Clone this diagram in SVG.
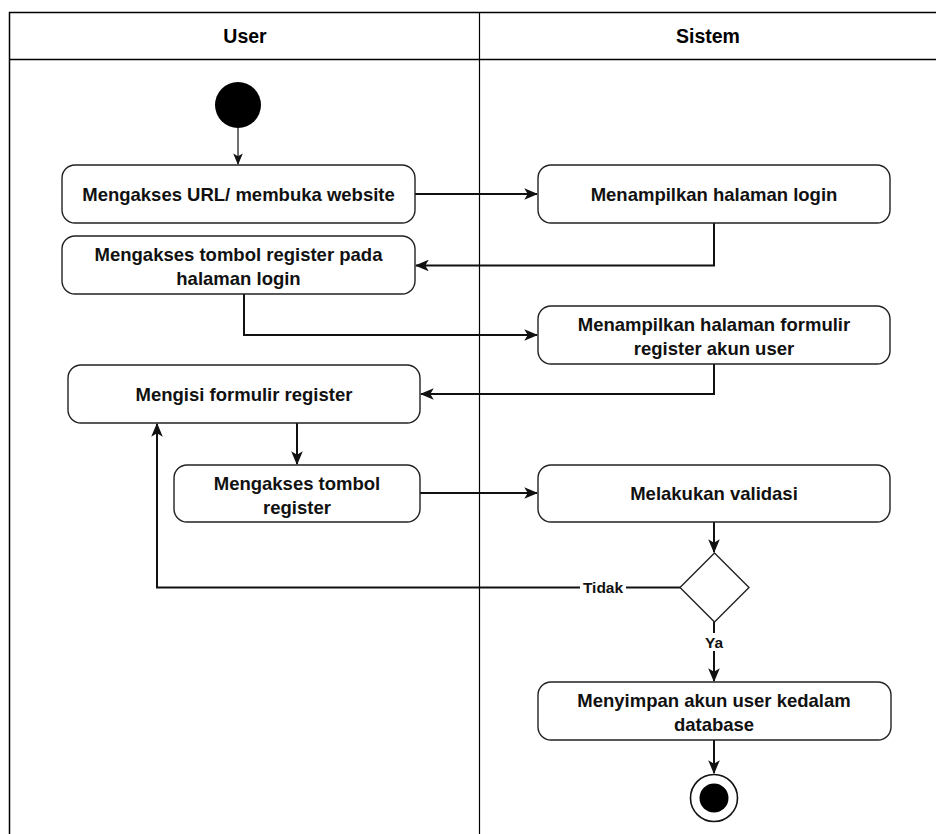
<svg xmlns="http://www.w3.org/2000/svg" width="936" height="834" viewBox="0 0 936 834">
  <style>
    .lane { fill: none; stroke: #000; stroke-width: 1.5; }
    .head { font-family: "Liberation Sans", Arial, sans-serif; font-size: 19.5px; font-weight: bold; fill: #000; text-anchor: middle; }
    .act rect { fill: #fff; stroke: #222; stroke-width: 1.4; }
    .act text, .lbl { font-family: "Liberation Sans", Arial, sans-serif; font-size: 18.5px; font-weight: bold; fill: #111; text-anchor: middle; }
    .flow { fill: none; stroke: #111; stroke-width: 2; }
    .thin { fill: none; stroke: #111; stroke-width: 1.2; }
  </style>
  <defs>
    <marker id="arrow" viewBox="0 0 12 10" refX="11" refY="5" markerWidth="7" markerHeight="5.8" orient="auto" markerUnits="strokeWidth">
      <path d="M0,0 L12,5 L0,10 L3,5 Z" fill="#111"/>
    </marker>
    <marker id="arrowThin" viewBox="0 0 12 10" refX="11" refY="5" markerWidth="10" markerHeight="8" orient="auto" markerUnits="strokeWidth">
      <path d="M0,0 L12,5 L0,10 L3,5 Z" fill="#111"/>
    </marker>
  </defs>

  <rect width="936" height="834" fill="#fff"/>

  <!-- swimlane frame -->
  <g id="lanes">
    <path class="lane" d="M936,12.5 H9.5 V834"/>
    <line class="lane" x1="9.5" y1="59.5" x2="936" y2="59.5"/>
    <line class="lane" x1="479.5" y1="12.5" x2="479.5" y2="834" style="stroke-width:1.2"/>
    <text class="head" x="245" y="43">User</text>
    <text class="head" x="708" y="43">Sistem</text>
  </g>

  <!-- connectors -->
  <g id="connectors">
    <line class="thin" x1="238" y1="128" x2="238" y2="164" marker-end="url(#arrowThin)"/>
    <line class="flow" x1="415" y1="194" x2="537" y2="194" marker-end="url(#arrow)"/>
    <path class="flow" d="M714,223 V265.5 H416" marker-end="url(#arrow)"/>
    <path class="flow" d="M244,294 V335 H537" marker-end="url(#arrow)"/>
    <path class="flow" d="M714,364 V394 H421" marker-end="url(#arrow)"/>
    <line class="flow" x1="297" y1="423" x2="297" y2="464" marker-end="url(#arrow)"/>
    <line class="flow" x1="420" y1="493" x2="537" y2="493" marker-end="url(#arrow)"/>
    <line class="flow" x1="714" y1="522" x2="714" y2="552" marker-end="url(#arrow)"/>
    <path class="flow" d="M680,587.5 H157 V424" marker-end="url(#arrow)"/>
    <line class="flow" x1="714" y1="622" x2="714" y2="681" marker-end="url(#arrow)"/>
    <line class="flow" x1="714" y1="740" x2="714" y2="773" marker-end="url(#arrow)"/>
    <rect x="580" y="578" width="46" height="19" fill="#fff"/>
    <text class="lbl" x="603" y="593" style="font-size:15.5px">Tidak</text>
    <rect x="703" y="633" width="22" height="18" fill="#fff"/>
    <text class="lbl" x="714" y="648" style="font-size:15.5px">Ya</text>
  </g>

  <g id="start">
    <circle cx="238" cy="105" r="23" fill="#000"/>
  </g>

  <g id="n1" class="act">
    <rect x="62" y="165" width="353" height="58" rx="13"/>
    <text x="238.5" y="200.5">Mengakses URL/ membuka website</text>
  </g>

  <g id="n2" class="act">
    <rect x="62" y="236" width="353" height="58" rx="13"/>
    <text x="238.5" y="260.5">Mengakses tombol register pada</text>
    <text x="238.5" y="284.5">halaman login</text>
  </g>

  <g id="n3" class="act">
    <rect x="538" y="165" width="352" height="58" rx="13"/>
    <text x="714" y="200.5">Menampilkan halaman login</text>
  </g>

  <g id="n4" class="act">
    <rect x="538" y="306" width="352" height="58" rx="13"/>
    <text x="714" y="330.5">Menampilkan halaman formulir</text>
    <text x="714" y="354.5">register akun user</text>
  </g>

  <g id="n5" class="act">
    <rect x="68" y="365" width="352" height="58" rx="13"/>
    <text x="244" y="400.5">Mengisi formulir register</text>
  </g>

  <g id="n6" class="act">
    <rect x="174" y="465" width="246" height="57" rx="13"/>
    <text x="297" y="489.5">Mengakses tombol</text>
    <text x="297" y="513.5">register</text>
  </g>

  <g id="n7" class="act">
    <rect x="538" y="465" width="352" height="57" rx="13"/>
    <text x="714" y="499.5">Melakukan validasi</text>
  </g>

  <g id="decision">
    <polygon points="714.5,553 749,587.5 714.5,622 680,587.5" fill="#fff" stroke="#222" stroke-width="1.4"/>
  </g>

  <g id="n8" class="act">
    <rect x="538" y="682" width="353" height="58" rx="13"/>
    <text x="714" y="706.5">Menyimpan akun user kedalam</text>
    <text x="714" y="730.5">database</text>
  </g>

  <g id="end">
    <circle cx="714" cy="798" r="23.5" fill="#fff" stroke="#111" stroke-width="1.6"/>
    <circle cx="714" cy="798" r="14.5" fill="#000"/>
  </g>
</svg>
